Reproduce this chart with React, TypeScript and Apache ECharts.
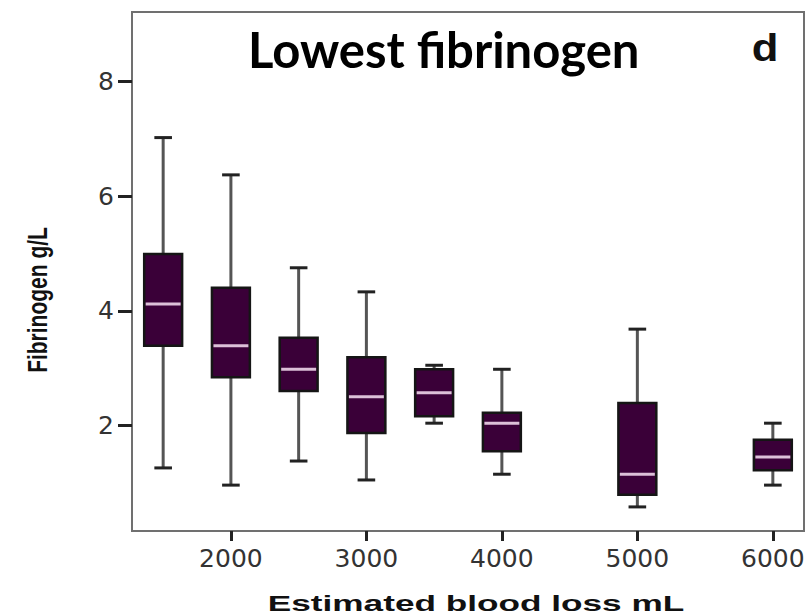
import React, { useEffect, useRef } from "react";
import * as echarts from "echarts";

const bloodLoss = [1500, 2000, 2500, 3000, 3500, 4000, 5000, 6000];
const whiskerLow = [1.26, 0.96, 1.38, 1.05, 2.04, 1.15, 0.58, 0.96];
const q1 = [3.39, 2.84, 2.6, 1.87, 2.16, 1.55, 0.79, 1.22];
const median = [4.12, 3.39, 2.98, 2.5, 2.57, 2.04, 1.15, 1.45];
const q3 = [4.99, 4.4, 3.53, 3.19, 2.98, 2.22, 2.39, 1.75];
const whiskerHigh = [7.02, 6.37, 4.75, 4.33, 3.05, 2.98, 3.68, 2.04];

const xTicks = [2000, 3000, 4000, 5000, 6000];
const yTicks = [2, 4, 6, 8];

const title = "Lowest fibrinogen";
const panel = "d";
const xName = "Estimated blood loss mL";
const yName = "Fibrinogen g/L";

export default function App() {
  const ref = useRef<HTMLDivElement>(null);
  useEffect(() => {
    if (!ref.current) return;
    const chart = echarts.init(ref.current, null, { renderer: "svg" });
    const data = bloodLoss.map((x, i) => [x, whiskerLow[i], q1[i], median[i], q3[i], whiskerHigh[i]]);
    const renderItem = (params: any, api: any) => {
      const x = api.value(0);
      const lo = api.coord([x, api.value(1)]);
      const b1 = api.coord([x, api.value(2)]);
      const md = api.coord([x, api.value(3)]);
      const b3 = api.coord([x, api.value(4)]);
      const hi = api.coord([x, api.value(5)]);
      const bw = api.size([280, 0])[0];
      const cw = api.size([130, 0])[0];
      const cx = lo[0];
      return {
        type: "group",
        children: [
          { type: "line", shape: { x1: cx, y1: hi[1], x2: cx, y2: b3[1] }, style: { stroke: "#555", lineWidth: 3 } },
          { type: "line", shape: { x1: cx, y1: b1[1], x2: cx, y2: lo[1] }, style: { stroke: "#555", lineWidth: 3 } },
          { type: "line", shape: { x1: cx - cw / 2, y1: hi[1], x2: cx + cw / 2, y2: hi[1] }, style: { stroke: "#222", lineWidth: 3 } },
          { type: "line", shape: { x1: cx - cw / 2, y1: lo[1], x2: cx + cw / 2, y2: lo[1] }, style: { stroke: "#222", lineWidth: 3 } },
          { type: "rect", shape: { x: cx - bw / 2, y: b3[1], width: bw, height: b1[1] - b3[1] }, style: { fill: "#3a0038", stroke: "#151515", lineWidth: 2.5 } },
          { type: "line", shape: { x1: cx - bw / 2 + 1.5, y1: md[1], x2: cx + bw / 2 - 1.5, y2: md[1] }, style: { stroke: "#dcc0d8", lineWidth: 3 } },
        ],
      };
    };
    chart.setOption({
      animation: false,
      grid: { left: 132, right: 6, top: 12, bottom: 85, show: true, borderColor: "#707070", borderWidth: 2, backgroundColor: "transparent" },
      xAxis: {
        type: "value",
        min: 1270,
        max: 6230,
        axisLine: { show: false },
        splitLine: { show: false },
        axisTick: { show: true, length: 10, customValues: xTicks, lineStyle: { color: "#222", width: 3 } },
        axisLabel: { customValues: xTicks, margin: 15, fontFamily: "DejaVu Sans", fontSize: 25, color: "#333", formatter: (v: number) => String(v) },
      },
      yAxis: {
        type: "value",
        min: 0.16,
        max: 9.21,
        axisLine: { show: false },
        splitLine: { show: false },
        axisTick: { show: true, length: 14, customValues: yTicks, lineStyle: { color: "#222", width: 3 } },
        axisLabel: { customValues: yTicks, margin: 18, fontFamily: "DejaVu Sans", fontSize: 25, color: "#333", formatter: (v: number) => String(v) },
      },
      graphic: [
        { type: "text", x: 248, y: 49, style: { text: title, fontFamily: "Lato", fontWeight: "bold", fontSize: 49, fill: "#000", textAlign: "left", textVerticalAlign: "middle" } },
        { type: "text", x: 765, y: 48, scaleX: 1.15, style: { text: panel, fontFamily: "Liberation Sans", fontWeight: "bold", fontSize: 38, fill: "#111", textAlign: "center", textVerticalAlign: "middle" } },
        { type: "text", x: 37, y: 300, rotation: Math.PI / 2, scaleY: 1.3, style: { text: yName, fontFamily: "Liberation Sans", fontWeight: "bold", fontSize: 21, fill: "#111", textAlign: "center", textVerticalAlign: "middle" } },
        { type: "text", x: 476, y: 603, scaleX: 1.6, style: { text: xName, fontFamily: "Liberation Sans", fontWeight: "bold", fontSize: 22, fill: "#111", textAlign: "center", textVerticalAlign: "middle" } },
      ],
      series: [
        { type: "custom", renderItem, data, encode: { x: 0, y: [1, 2, 3, 4, 5] }, clip: false },
      ],
    });
    return () => chart.dispose();
  }, []);
  return <div ref={ref} style={{ position: "fixed", left: 0, top: 0, width: 810, height: 616, background: "#fff" }} />;
}
